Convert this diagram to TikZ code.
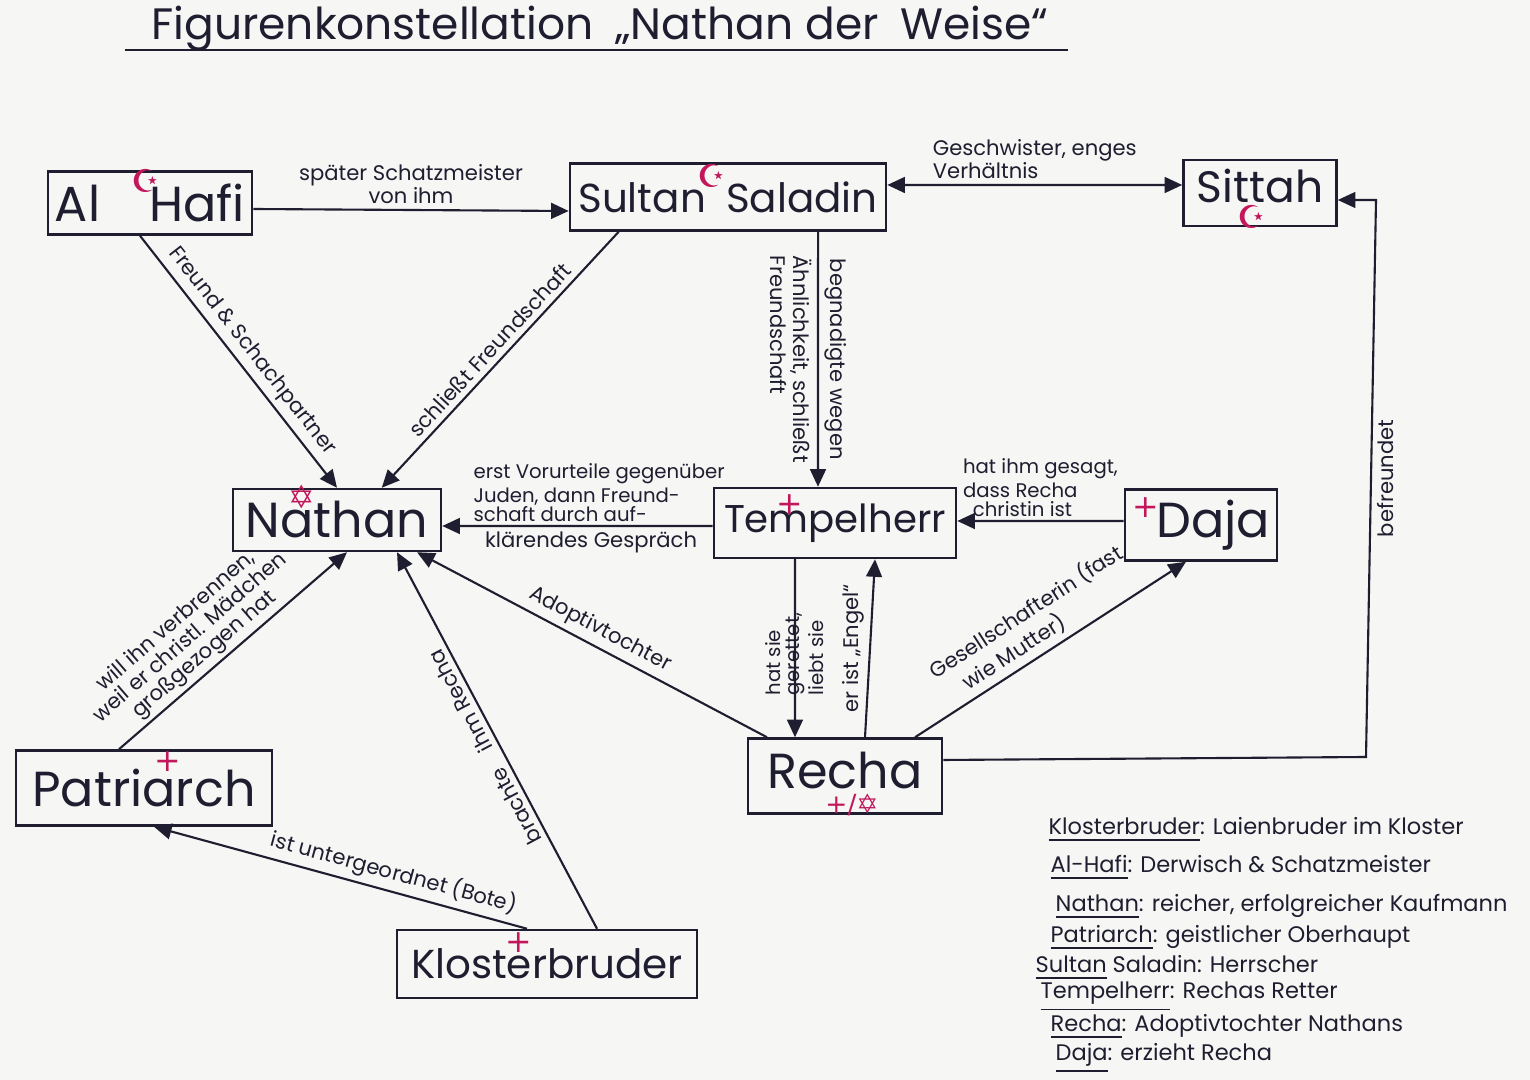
\documentclass[tikz,border=0pt]{standalone}
\usepackage{fontspec}
\setmainfont{Poppins}
\newfontfamily\symfont{DejaVu Sans}
\usetikzlibrary{arrows.meta}

\definecolor{tinte}{HTML}{1E1E30}
\definecolor{rotstift}{HTML}{C2185B}
\definecolor{papier}{HTML}{F6F6F4}

\tikzset{
  figur/.style={draw=tinte, line width=0.7pt, text=tinte, font=\fontsize{11.5}{13}\selectfont, inner sep=2pt},
  gross/.style={font=\fontsize{14}{16}\selectfont},
  bez/.style={draw=tinte, line width=0.6pt},
  beschr/.style={text=tinte, font=\fontsize{6}{6.5}\selectfont, inner sep=1.5pt},
  eng/.style={text=tinte, font=\fontsize{5.6}{5.4}\selectfont, inner sep=1pt},
  zeichen/.style={text=rotstift, font=\symfont\fontsize{9}{10}\selectfont, inner sep=0pt},
  legende/.style={text=tinte, font=\fontsize{6.4}{7}\selectfont, anchor=west, inner sep=0pt},
  titelschrift/.style={text=tinte, font=\fontsize{12.5}{15}\selectfont}
}

\begin{document}
\begin{tikzpicture}[x=0.01cm, y=-0.01cm, >={Triangle[length=5pt,width=4.5pt]}]
\useasboundingbox (0,0) rectangle (1530,1080);
\fill[papier] (0,0) rectangle (1530,1080);

\node[titelschrift] (titel) at (600,29) {Figurenkonstellation\enspace„Nathan der\enspace Weise“};
\draw[tinte, line width=0.8pt] (125,50) -- (1068,50);

\node[figur, gross, minimum width=1.85cm, minimum height=0.63cm] (alhafi) at (150,203) {Al\quad Hafi};
\node[figur, minimum width=3.16cm, minimum height=0.67cm] (saladin) at (728,197) {Sultan\enspace Saladin};
\node[figur, font=\fontsize{12.5}{15}\selectfont, minimum width=1.53cm, minimum height=0.66cm] (sittah) at (1260,193) {\raisebox{4pt}{Sittah}};
\node[figur, gross, minimum width=2.08cm, minimum height=0.62cm] (nathan) at (337,520) {Nathan};
\node[figur, font=\fontsize{11}{13}\selectfont, minimum width=2.42cm, minimum height=0.70cm] (tempel) at (835,523) {Tempelherr};
\node[figur, gross, minimum width=1.41cm, minimum height=0.71cm] (daja) at (1201,525) {\enspace Daja};
\node[figur, gross, minimum width=2.56cm, minimum height=0.75cm] (patri) at (144,788) {Patriarch};
\node[figur, gross, minimum width=1.94cm, minimum height=0.75cm] (recha) at (845,776) {\raisebox{3pt}{Recha}};
\node[figur, minimum width=3.00cm, minimum height=0.68cm] (kloster) at (547,964) {Klosterbruder};

\node[zeichen] (mondhafi) at (146,181) {☪};
\node[zeichen] (mondsaladin) at (712,176) {☪};
\node[zeichen] (mondsittah) at (1252,217) {☪};
\node[zeichen] (sternnathan) at (302,497) {✡};
\node[zeichen] (kreuztempel) at (790,505) {+};
\node[zeichen] (kreuzdaja) at (1146,508) {+};
\node[zeichen] (kreuzpatri) at (168,762) {+};
\node[zeichen] (kreuzkloster) at (519,943) {+};
\node[zeichen, font=\symfont\fontsize{7.5}{8}\selectfont] (zeichenrecha) at (852,805) {+/✡};

\draw[bez, ->] ([yshift=-0.06cm]alhafi.east) -- ([yshift=-0.14cm]saladin.west)
  node[beschr, midway, above, align=center] {später Schatzmeister\\von ihm};
\draw[bez, ->] ([xshift=-0.1cm]alhafi.south) -- (nathan.north)
  node[beschr, midway, sloped, above] {Freund \& Schachpartner};
\draw[bez, ->] ([xshift=0.5cm]saladin.south west) -- ([xshift=1.5cm]nathan.north west)
  node[beschr, midway, sloped, above] {schließt Freundschaft};
\draw[bez, <->] ([yshift=0.12cm]saladin.east) -- ([yshift=0.08cm]sittah.west)
  node[beschr, midway, above, align=left] {Geschwister, enges\\Verhältnis};
\draw[bez, ->] ([xshift=0.9cm]saladin.south) -- ([xshift=-0.17cm]tempel.north)
  node[beschr, midway, rotate=-90, anchor=south] {begnadigte wegen}
  node[beschr, midway, rotate=-90, anchor=north, align=left] {Ähnlichkeit, schließt\\Freundschaft};
\draw[bez, ->] ([yshift=-0.03cm]tempel.west) -- ([yshift=-0.06cm]nathan.east)
  node[eng, pos=0.42, above, align=left] {erst Vorurteile gegenüber\\Juden, dann Freund-\\schaft durch auf-}
  node[beschr, pos=0.45, below] {klärendes Gespräch};
\draw[bez, ->] ([yshift=0.04cm]daja.west) -- ([yshift=0.02cm]tempel.east)
  node[eng, midway, above, align=left] {hat ihm gesagt,\\dass Recha\\\enspace christin ist};
\draw[bez, ->] ([xshift=-0.4cm]tempel.south) -- ([xshift=-0.5cm]recha.north)
  node[eng, midway, rotate=90, xshift=-0.06cm, align=left] {hat sie\\gerettet,\\liebt sie};
\draw[bez, ->] ([xshift=0.2cm]recha.north) -- ([xshift=0.4cm]tempel.south)
  node[beschr, midway, rotate=90, anchor=south] {er ist „Engel“};
\draw[bez, ->] ([xshift=0.7cm]recha.north) -- ([xshift=-0.15cm]daja.south)
  node[beschr, midway, sloped, above, align=left] {Gesellschafterin (fast\\\quad wie Mutter)};
\draw[bez, ->] ([xshift=-0.78cm]recha.north) -- ([xshift=0.8cm]nathan.south)
  node[beschr, midway, sloped, above] {Adoptivtochter};
\draw[bez, ->] ([xshift=0.5cm]kloster.north) -- ([xshift=0.6cm]nathan.south)
  node[beschr, midway, sloped, allow upside down, above] {brachte\quad ihm Recha};
\draw[bez, ->] ([xshift=-0.2cm]kloster.north) -- ([xshift=0.1cm]patri.south)
  node[beschr, pos=0.37, sloped, above] {ist untergeordnet (Bote)};
\draw[bez, ->] ([xshift=-0.25cm]patri.north) -- ([xshift=0.1cm]nathan.south)
  node[eng, font=\fontsize{6}{6.2}\selectfont, pos=0.42, sloped, above, align=center] {will ihn verbrennen,\\weil er christl. Mädchen\\großgezogen hat};

\coordinate (eckeunten) at (1366,757);
\coordinate (eckeoben) at (1376,200);
\draw[bez, ->] ([yshift=0.16cm]recha.east) -- (eckeunten) -- (eckeoben)
  node[beschr, midway, rotate=90, anchor=north] {befreundet}
  -- ([yshift=-0.07cm]sittah.east);

\node[legende] (legkloster) at (1048,830) {\underline{Klosterbruder}: Laienbruder im Kloster};
\node[legende] (leghafi) at (1050,868) {\underline{Al-Hafi}: Derwisch \& Schatzmeister};
\node[legende] (legnathan) at (1055,907) {\underline{Nathan}: reicher, erfolgreicher Kaufmann};
\node[legende] (legpatri) at (1050,938) {\underline{Patriarch}: geistlicher Oberhaupt};
\node[legende] (legsaladin) at (1035,968) {\underline{Sultan} Saladin: Herrscher};
\node[legende] (legtempel) at (1040,997) {\underline{Tempelherr}: Rechas Retter};
\node[legende] (legrecha) at (1050,1027) {\underline{Recha}: Adoptivtochter Nathans};
\node[legende] (legdaja) at (1055,1058) {\underline{Daja}: erzieht Recha};
\end{tikzpicture}
\end{document}
